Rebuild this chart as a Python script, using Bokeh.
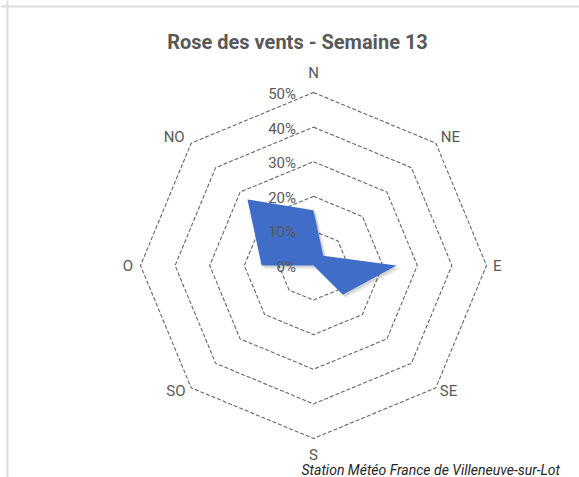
import numpy as np
from bokeh.plotting import figure
from bokeh.models import Range1d, Span
from bokeh.core.properties import value
from bokeh.embed import file_html
from bokeh.resources import INLINE

# ---- data ----
directions = ["N", "NE", "E", "SE", "S", "SO", "O", "NO"]
frequencies = [16, 4, 24, 12, 0, 0, 15, 27]          # % of time
ring_values = [0, 10, 20, 30, 40, 50]
ring_labels = ["0%", "10%", "20%", "30%", "40%", "50%"]
title_text = "Rose des vents - Semaine 13"
source_text = "Station Météo France de Villeneuve-sur-Lot"

# ---- layout (pixels) ----
W, H = 579, 477
CX, CY = 313, 265          # centre of the radar in canvas pixels
S = 173 / 50               # pixels per percent
FONT = "Roboto"
TXT = "#595959"

angles = np.deg2rad(np.arange(len(directions)) * 360 / len(directions))


def polar(r):
    r = np.asarray(r, dtype=float)
    return r * np.sin(angles), r * np.cos(angles)


def closed(a):
    return list(a) + [a[0]]


def px_x(px):
    return (px - CX) / S


def px_y(py):
    return (CY - py) / S


p = figure(width=W, height=H,
           x_range=Range1d(-CX / S, (W - CX) / S),
           y_range=Range1d(-(H - CY) / S, CY / S),
           output_backend="svg", toolbar_location=None,
           min_border=0, x_axis_type=None, y_axis_type=None,
           background_fill_color="white", border_fill_color="white")
p.outline_line_color = None

# chart-area frame (top and left edges visible in the window)
p.add_layout(Span(location=px_y(6), dimension="width", line_color="#dcdcdc", line_width=2))
p.add_layout(Span(location=px_x(7), dimension="height", line_color="#dcdcdc", line_width=2))

# rings
for v in ring_values[1:]:
    xs, ys = polar([v] * len(directions))
    p.line(closed(xs), closed(ys), line_color="#666666", line_width=1.1,
           line_dash="4 2")

# data area with soft shadow
fx, fy = polar(frequencies)
for off, a in [(3.5, 0.07), (2.0, 0.10)]:
    sh = off / S
    p.patch(list(fx + sh), list(fy - sh), fill_color="black", fill_alpha=a,
            line_color=None)
p.patch(list(fx), list(fy), fill_color="#3F6DC8", line_color=None)

# percentage labels
p.text(x=[0] * len(ring_values), y=ring_values, text=ring_labels,
       x_offset=-17.5, y_offset=1.5, text_align="right", text_baseline="middle",
       text_font=value(FONT), text_font_size="15px", text_color=TXT)

# direction labels (offset from the 50% vertices, in screen px)
dx_off = [0, 14.5, 10.7, 12.7, 0, -15.3, -12.6, -17]
dy_off = [-19.3, -6, 0, 3.4, 16, 3.4, 0, -6]
vx, vy = polar([ring_values[-1]] * len(directions))
p.text(x=list(vx), y=list(vy), text=directions, x_offset=dx_off, y_offset=dy_off,
       text_align="center", text_baseline="middle",
       text_font=value(FONT), text_font_size="15px", text_color=TXT)

# title
p.text(x=[px_x(297)], y=[px_y(41.7)], text=[title_text], text_align="center",
       text_baseline="alphabetic", text_font=value(FONT), text_font_size="20px",
       text_font_style="bold", text_color=TXT)

# source note
p.text(x=[px_x(301)], y=[px_y(469)], text=[source_text], text_align="left",
       text_baseline="alphabetic", text_font=value(FONT), text_font_size="14px",
       text_font_style="italic", text_color="#262626")

open("out.html", "w").write(file_html(p, INLINE))
